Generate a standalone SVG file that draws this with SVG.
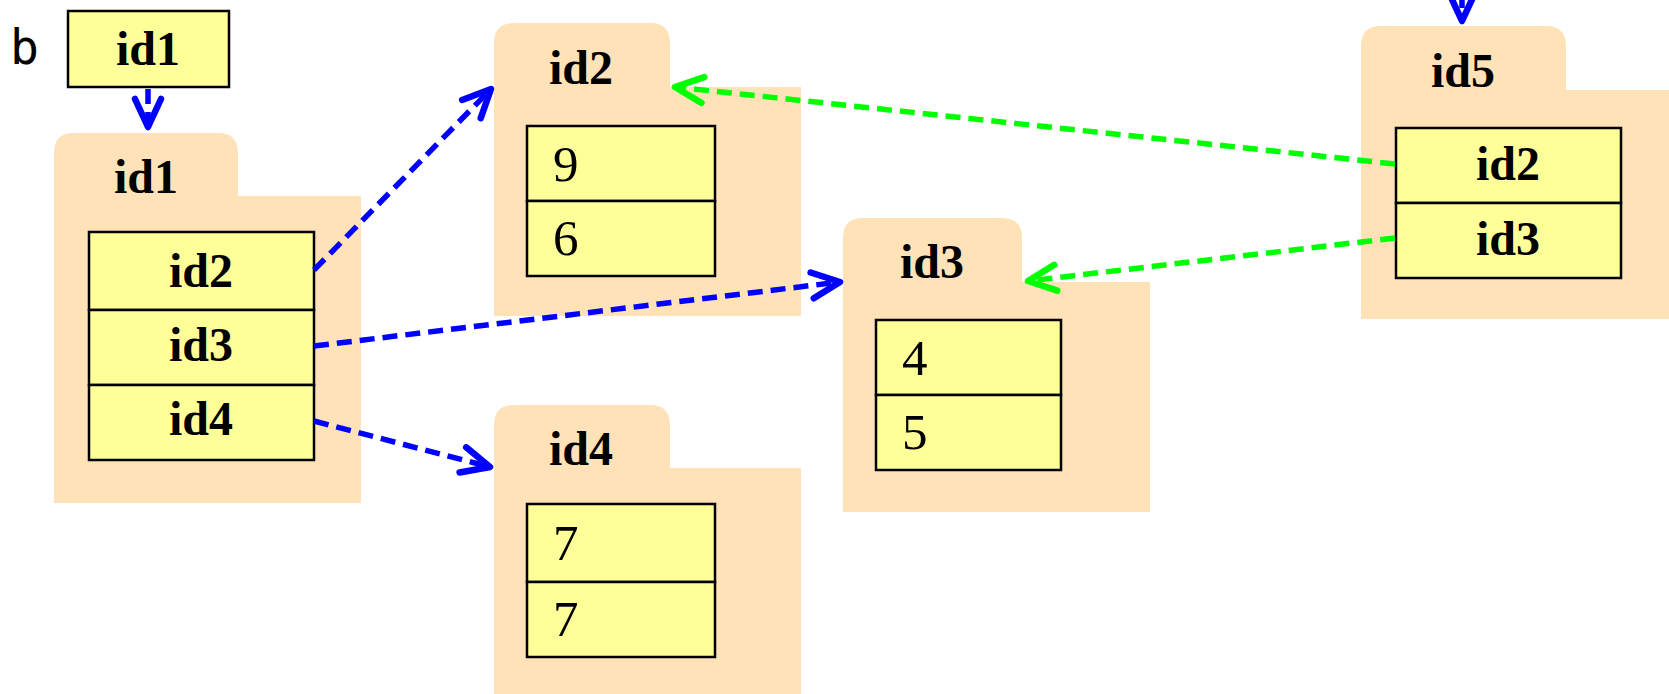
<svg xmlns="http://www.w3.org/2000/svg" width="1669" height="694" viewBox="0 0 1669 694">
<style>
.folder{fill:#FFE2B8;stroke:none}
.cell{fill:#FFFF99;stroke:#000;stroke-width:2.5}
.lbl{font-family:"Liberation Serif","Times New Roman",serif;font-weight:bold;font-size:48px;fill:#000;text-anchor:middle}
.num{font-family:"Liberation Serif","Times New Roman",serif;font-size:51px;fill:#000}
.var{font-family:"DejaVu Sans Mono","Liberation Mono",monospace;font-size:48px;fill:#000}
.blue{fill:none;stroke:#0000FF;stroke-width:5.5;stroke-dasharray:15 8}
.green{fill:none;stroke:#00FF00;stroke-width:5.5;stroke-dasharray:15 8}
</style>
<defs>
<marker id="ab" markerUnits="userSpaceOnUse" markerWidth="40" markerHeight="40" viewBox="-34 -20 40 40" refX="0" refY="0" orient="auto" overflow="visible">
<path d="M-28,-13 L0,0 L-28,13" fill="none" stroke="#0000FF" stroke-width="6.5" stroke-linecap="round" stroke-linejoin="round" stroke-dasharray="none"/>
</marker>
<marker id="ag" markerUnits="userSpaceOnUse" markerWidth="40" markerHeight="40" viewBox="-34 -20 40 40" refX="0" refY="0" orient="auto" overflow="visible">
<path d="M-28,-13 L0,0 L-28,13" fill="none" stroke="#00FF00" stroke-width="6.5" stroke-linecap="round" stroke-linejoin="round" stroke-dasharray="none"/>
</marker>
</defs>
<rect width="1669" height="694" fill="#fff"/>

<g id="var-b">
<text class="var" x="10" y="64">b</text>
<rect class="cell" x="68" y="11" width="161" height="76"/>
<text class="lbl" x="148" y="65">id1</text>
</g>

<g id="node-id1">
<path class="folder" d="M54,503 L54,153 Q54,133 74,133 L218,133 Q238,133 238,153 L238,196 L361,196 L361,503 Z"/>
<text class="lbl" x="146" y="193">id1</text>
<rect class="cell" x="89" y="232" width="225" height="78"/>
<rect class="cell" x="89" y="310" width="225" height="75"/>
<rect class="cell" x="89" y="385" width="225" height="75"/>
<text class="lbl" x="201" y="287">id2</text>
<text class="lbl" x="201" y="361">id3</text>
<text class="lbl" x="201" y="435">id4</text>
</g>

<g id="node-id2">
<path class="folder" d="M494,316 L494,43 Q494,23 514,23 L650,23 Q670,23 670,43 L670,87 L801,87 L801,316 Z"/>
<text class="lbl" x="581" y="84">id2</text>
<rect class="cell" x="527" y="126" width="188" height="75"/>
<rect class="cell" x="527" y="201" width="188" height="75"/>
<text class="num" x="553" y="181">9</text>
<text class="num" x="553" y="255">6</text>
</g>

<g id="node-id3">
<path class="folder" d="M843,512 L843,238 Q843,218 863,218 L1002,218 Q1022,218 1022,238 L1022,282 L1150,282 L1150,512 Z"/>
<text class="lbl" x="932" y="278">id3</text>
<rect class="cell" x="876" y="320" width="185" height="75"/>
<rect class="cell" x="876" y="395" width="185" height="75"/>
<text class="num" x="902" y="375">4</text>
<text class="num" x="902" y="449">5</text>
</g>

<g id="node-id4">
<path class="folder" d="M494,694 L494,425 Q494,405 514,405 L650,405 Q670,405 670,425 L670,468 L801,468 L801,694 Z"/>
<text class="lbl" x="581" y="465">id4</text>
<rect class="cell" x="527" y="504" width="188" height="78"/>
<rect class="cell" x="527" y="582" width="188" height="75"/>
<text class="num" x="553" y="560">7</text>
<text class="num" x="553" y="636">7</text>
</g>

<g id="node-id5">
<path class="folder" d="M1361,319 L1361,46 Q1361,26 1381,26 L1546,26 Q1566,26 1566,46 L1566,90 L1669,90 L1669,319 Z"/>
<text class="lbl" x="1463" y="87">id5</text>
<rect class="cell" x="1396" y="128" width="225" height="75"/>
<rect class="cell" x="1396" y="203" width="225" height="75"/>
<text class="lbl" x="1508" y="180">id2</text>
<text class="lbl" x="1508" y="255">id3</text>
</g>

<g id="connectors">
<line class="blue" x1="148" y1="89" x2="148" y2="127" marker-end="url(#ab)"/>
<line class="blue" x1="314" y1="270" x2="491" y2="89" marker-end="url(#ab)"/>
<line class="blue" x1="314" y1="346" x2="840" y2="282" marker-end="url(#ab)"/>
<line class="blue" x1="314" y1="421" x2="490" y2="467" marker-end="url(#ab)"/>
<line class="blue" x1="1462" y1="-30" x2="1462" y2="21" marker-end="url(#ab)"/>
<line class="green" x1="1395" y1="164" x2="675" y2="87" marker-end="url(#ag)"/>
<line class="green" x1="1395" y1="238" x2="1028" y2="281" marker-end="url(#ag)"/>
</g>
</svg>
